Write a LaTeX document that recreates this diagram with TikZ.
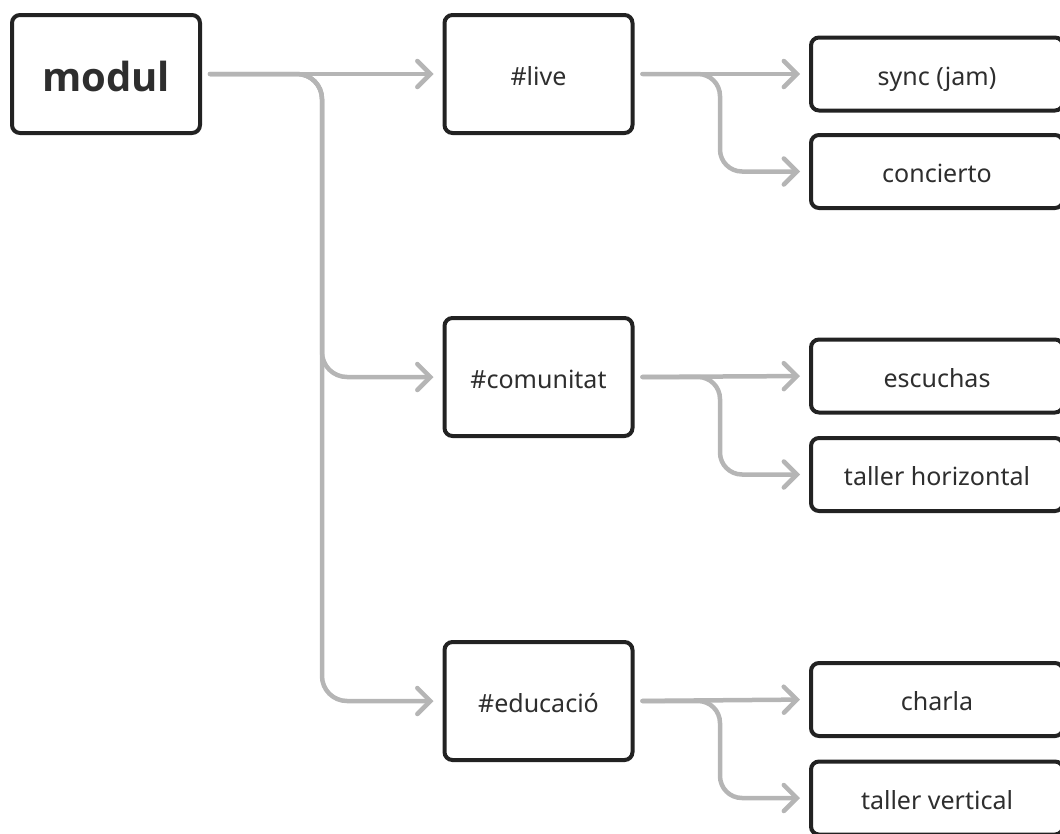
\documentclass[tikz,border=0pt]{standalone}
\usepackage{fontspec}
\setmainfont{Noto Sans}
\newfontfamily\rootfont{Open Sans}
\usetikzlibrary{arrows.meta}
\definecolor{linegray}{HTML}{B5B5B5}
\definecolor{boxdark}{HTML}{222222}
\definecolor{txt}{HTML}{2E2E2E}
\begin{document}
\begin{tikzpicture}[x=1pt,y=-1pt,
  box/.style={draw=boxdark, line width=4pt, rounded corners=8pt, fill=white, text=txt,
    font=\fontsize{25}{29}\selectfont, minimum width=188pt, minimum height=118pt,
    inner sep=0pt, text height=22pt, text depth=0pt},
  rootbox/.style={box, font=\rootfont\fontsize{40}{46}\selectfont\bfseries, text height=34pt},
  leaf/.style={box, minimum width=252pt, minimum height=73pt},
  conn/.style={draw=linegray, line width=4.5pt, line cap=round, line join=round,
    -{Straight Barb[length=13pt,width=26pt,line cap=round]},
    shorten <=8pt, shorten >=9pt},
]
\useasboundingbox (0,0) rectangle (1060,833);
\clip (0,0) rectangle (1060,833);

% level 0
\node[rootbox] (modul) at (106,74) {modul};
% level 1
\node[box] (live) at (538.5,74) {\#live};
\node[box] (comunitat) at (538.5,377) {\#comunitat};
\node[box] (educacio) at (538.5,701) {\#educació};
% level 2
\node[leaf] (sync) at (937,74) {sync (jam)};
\node[leaf] (concierto) at (937,171.5) {concierto};
\node[leaf] (escuchas) at (937,376) {escuchas};
\node[leaf] (thoriz) at (937,474.5) {taller horizontal};
\node[leaf] (charla) at (937,699.5) {charla};
\node[leaf] (tvert) at (937,798) {taller vertical};

% junction coordinates
\coordinate (j0) at (322,74);
\coordinate (j1) at (720,74);
\coordinate (j2) at (720,377);
\coordinate (j3) at (720,701);

% connectors
\draw[conn, rounded corners=25pt] (modul.east) -- (j0) |- (educacio.west);
\draw[conn, rounded corners=25pt] (modul.east) -- (j0) |- (comunitat.west);
\draw[conn] (modul.east) -- (live.west);

\draw[conn, rounded corners=22pt] (live.east) -- (j1) |- (concierto.west);
\draw[conn] (live.east) -- (sync.west);
\draw[conn, rounded corners=22pt] (comunitat.east) -- (j2) |- (thoriz.west);
\draw[conn] (comunitat.east) -- (escuchas.west);
\draw[conn, rounded corners=22pt] (educacio.east) -- (j3) |- (tvert.west);
\draw[conn] (educacio.east) -- (charla.west);
\end{tikzpicture}
\end{document}
